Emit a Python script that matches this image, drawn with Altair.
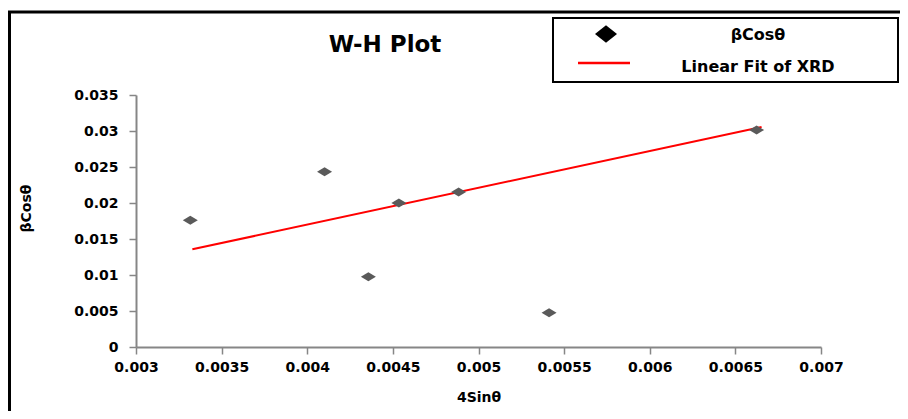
import altair as alt
import pandas as pd

# ---- data ----
x_4sin = [0.003317, 0.004101, 0.004357, 0.004535, 0.004884, 0.005412, 0.006624]
y_bcos = [0.0176, 0.02435, 0.00977, 0.0200, 0.02153, 0.00477, 0.03014]
fit_x = [0.003329, 0.006653]
fit_y = [0.01357, 0.03056]
x_ticks = [0.003, 0.0035, 0.004, 0.0045, 0.005, 0.0055, 0.006, 0.0065, 0.007]
y_ticks = [0, 0.005, 0.01, 0.015, 0.02, 0.025, 0.03, 0.035]
legend_labels = ["βCosθ", "Linear Fit of XRD"]
title_text = "W-H Plot"
x_title = "4Sinθ"
y_title = "βCosθ"

FONT = "DejaVu Sans"
W, H = 685, 252

xscale = alt.Scale(domain=[0.003, 0.007], nice=False, zero=False)
yscale = alt.Scale(domain=[0, 0.035], nice=False, zero=False)

X = alt.X("x:Q", scale=xscale,
          axis=alt.Axis(values=x_ticks, format="~g", title=x_title,
                        titleY=43, titleX=W / 2))
Y = alt.Y("y:Q", scale=yscale,
          axis=alt.Axis(values=y_ticks, format="~g", title=y_title,
                        titleX=-103, titleY=113))

pts = pd.DataFrame({"x": x_4sin, "y": y_bcos})
fit = pd.DataFrame({"x": fit_x, "y": fit_y})
one = pd.DataFrame({"k": [0]})

flat_diamond = "M-1,0L0,-0.6L1,0L0,0.6Z"
legend_diamond = "M-1,0L0,-0.8L1,0L0,0.8Z"

fit_line = alt.Chart(fit).mark_line(color="#ff0000", strokeWidth=2).encode(x=X, y=Y)

points = alt.Chart(pts).mark_point(
    shape=flat_diamond, filled=True, color="#5a5a5a", size=225, opacity=1
).encode(x=X, y=Y)

title = alt.Chart(one).mark_text(
    text=title_text, font=FONT, fontSize=23, fontWeight="bold",
    color="black", baseline="middle", align="center"
).encode(x=alt.value(249), y=alt.value(-50))

# frame lines (cropped figure border)
frame_left = alt.Chart(one).mark_rule(color="black", strokeWidth=3).encode(
    x=alt.value(-126.5), y=alt.value(-84), y2=alt.value(H + 64)
)
frame_top = alt.Chart(one).mark_rule(color="black", strokeWidth=3).encode(
    y=alt.value(-83), x=alt.value(-128), x2=alt.value(764)
)

# legend box
legend_box = alt.Chart(one).mark_rect(
    fill="white", stroke="black", strokeWidth=2
).encode(
    x=alt.value(417), x2=alt.value(762), y=alt.value(-77), y2=alt.value(-13)
)
legend_sym = alt.Chart(one).mark_point(
    shape=legend_diamond, filled=True, color="black", size=484, opacity=1
).encode(x=alt.value(470), y=alt.value(-61))
legend_line = alt.Chart(one).mark_rule(color="#ff0000", strokeWidth=2.5).encode(
    x=alt.value(442), x2=alt.value(494), y=alt.value(-32)
)
legend_t1 = alt.Chart(one).mark_text(
    text=legend_labels[0], font=FONT, fontSize=16, fontWeight="bold",
    color="black", align="center", baseline="middle"
).encode(x=alt.value(622), y=alt.value(-60))
legend_t2 = alt.Chart(one).mark_text(
    text=legend_labels[1], font=FONT, fontSize=16, fontWeight="bold",
    color="black", align="center", baseline="middle"
).encode(x=alt.value(622), y=alt.value(-28))

chart = alt.layer(
    fit_line, points, frame_left, frame_top, legend_box, legend_sym,
    legend_line, legend_t1, legend_t2, title
).properties(
    width=W, height=H,
    autosize=alt.AutoSizeParams(type="none"),
    padding={"left": 128, "top": 87, "right": 79, "bottom": 64},
).configure_view(
    stroke=None
).configure_axis(
    grid=False,
    domainColor="#868686", domainWidth=2,
    tickColor="#868686", tickWidth=1.5, tickSize=7,
    labelFont=FONT, labelFontSize=14, labelFontWeight="bold", labelColor="black",
    labelFlush=False, labelOverlap=False,
    titleFont=FONT, titleFontSize=14, titleFontWeight="bold", titleColor="black",
).configure_axisY(
    labelPadding=11
).configure_axisX(
    labelPadding=6
)

chart.save("out.html", embed_options={"renderer": "svg", "actions": False})
